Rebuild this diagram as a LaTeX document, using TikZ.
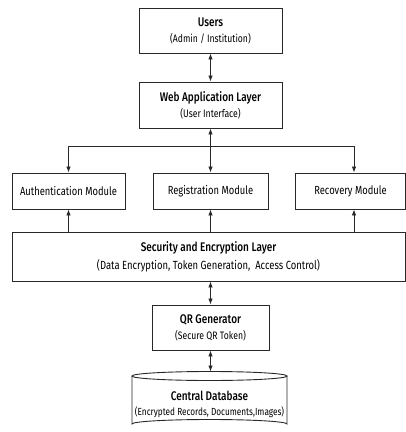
\documentclass[tikz,border=0pt]{standalone}
\usepackage{fontspec}
\setmainfont{Fira Sans}[FakeStretch=0.8, BoldFont={Fira Sans Medium}]
\usetikzlibrary{arrows.meta}
\definecolor{ln}{RGB}{40,40,40}
\begin{document}
\begin{tikzpicture}[x=1pt,y=-1pt,
  box/.style={draw=ln, line width=0.9pt, fill=white, inner sep=0pt, align=center},
  conn/.style={draw=ln, line width=0.8pt},
  tip/.style={-{Latex[length=6pt,width=4.5pt]}},
  rtip/.style={{Latex[length=6pt,width=4.5pt]}-},
  btip/.style={{Latex[length=6pt,width=4.5pt]}-{Latex[length=6pt,width=4.5pt]}},
]
\newcommand{\ttlf}{\fontsize{12.5}{14}\selectfont\bfseries}
\newcommand{\subf}{\fontsize{10.8}{12}\selectfont}
\newcommand{\modf}{\fontsize{11.7}{13}\selectfont}
\useasboundingbox (0,0) rectangle (406,432);
\fill[white] (0,0) rectangle (406,432);

\node[box, minimum width=143pt, minimum height=45pt] (users) at (210.5,30.5)
  {{\ttlf Users}\\[4pt]{\subf (Admin / Institution)}};
\node[box, minimum width=143pt, minimum height=46pt] (web) at (210.5,105)
  {{\ttlf Web Application Layer}\\[4pt]{\subf (User Interface)}};
\node[box, minimum width=113pt, minimum height=36pt] (auth) at (68.5,191)
  {\modf Authentication Module};
\node[box, minimum width=115pt, minimum height=36pt] (reg) at (210.5,191)
  {\modf Registration Module};
\node[box, minimum width=110pt, minimum height=36pt] (rec) at (350.5,191)
  {\modf Recovery Module};
\node[box, minimum width=393pt, minimum height=49pt] (sec) at (208.5,256.5)
  {{\ttlf Security and Encryption Layer}\\[4pt]{\fontsize{11.8}{13}\selectfont (Data Encryption, Token Generation,\ \ Access Control)}};
\node[box, minimum width=117pt, minimum height=45pt] (qr) at (210.5,327.5)
  {{\ttlf QR Generator}\\[4pt]{\subf (Secure QR Token)}};

% cylinder
\draw[ln, line width=0.9pt, fill=white] (132,376) -- (132,424)
  arc[start angle=180, end angle=360, x radius=77.5, y radius=4.5] -- (287,376);
\draw[ln, line width=0.9pt] (209.5,376) ellipse [x radius=77.5, y radius=4.5];
\coordinate (dbtop) at (210.5,371.5);
\node[align=center, inner sep=0pt] (db) at (209.5,404)
  {{\ttlf Central Database}\\[3pt]{\fontsize{10.3}{12}\selectfont (Encrypted Records, Documents,Images)}};

\coordinate (hub) at (210.5,146);
\coordinate (reca) at (354,146);

\draw[conn, btip] (users.south) -- (web.north);
\draw[conn, rtip] (web.south) -- (hub);
\draw[conn, tip] (hub) -| (auth.north);
\draw[conn, tip] (hub) -- (reg.north);
\draw[conn, tip] (hub) -- (reca) -- (reca |- rec.north);
\draw[conn, tip] (auth.south |- sec.north) -- (auth.south);
\draw[conn, tip] (reg.south |- sec.north) -- (reg.south);
\draw[conn, tip] (reca |- sec.north) -- (reca |- rec.south);
\draw[conn, btip] (sec.south -| qr.north) -- (qr.north);
\draw[conn, btip] (qr.south) -- (dbtop);
\end{tikzpicture}
\end{document}
